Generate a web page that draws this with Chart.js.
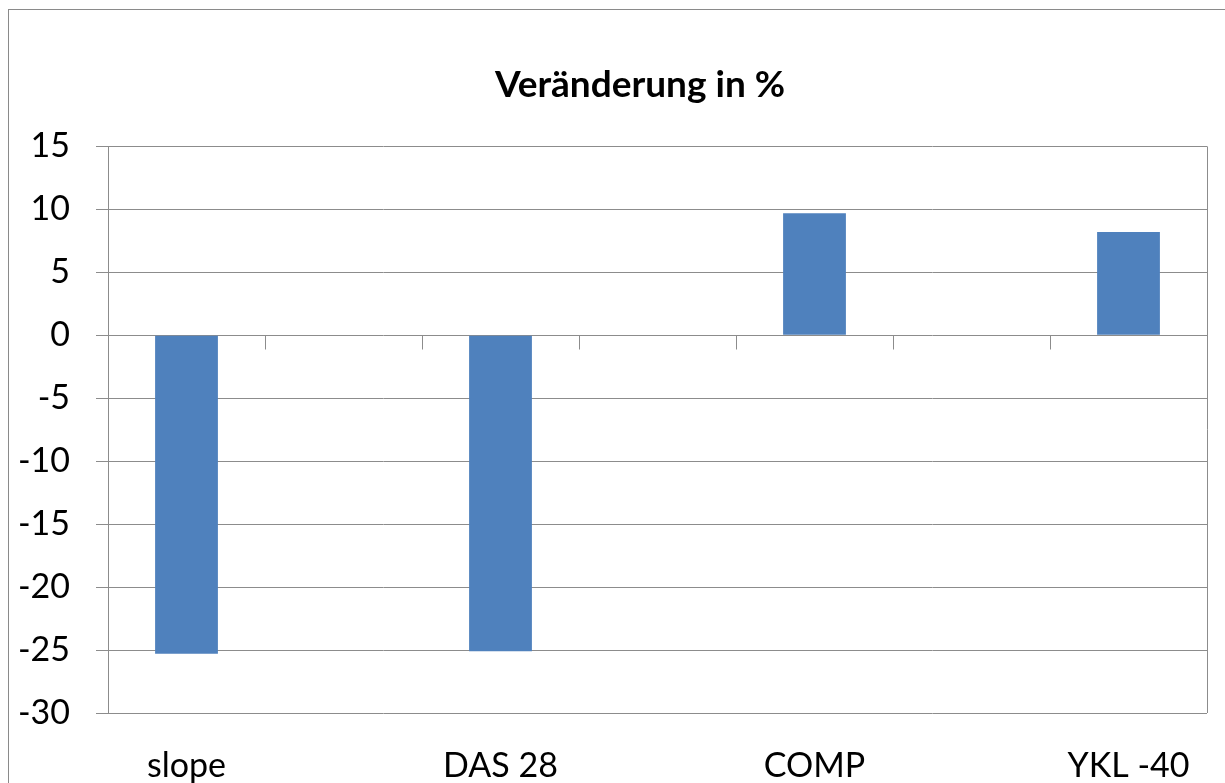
<!DOCTYPE html>
<html>
<head>
<meta charset="utf-8">
<script src="https://cdn.jsdelivr.net/npm/chart.js@4/dist/chart.umd.min.js"></script>
<style>
  html, body { margin: 0; padding: 0; background: #fff; overflow: hidden; }
  #wrap { width: 1225px; height: 783px; overflow: hidden; }
</style>
</head>
<body>
<div id="wrap"><canvas id="chart" width="1280" height="783"></canvas></div>
<script>
// categories (Excel skips every 2nd label, so the empty ones are hidden slots)
const categories = ["slope", "", "DAS 28", "", "COMP", "", "YKL -40"];
const changes = [-25.3, null, -25.1, null, 9.7, null, 8.2];
const yTicks = [15, 10, 5, 0, -5, -10, -15, -20, -25, -30];

const FONT = "Lato, 'Open Sans', sans-serif";
const LINE = "#8c8c8c";

// tick marks on the zero line, right border and the outer frame
const excelBits = {
    id: "excelBits",
    afterDraw(chart) {
        const ctx = chart.ctx;
        const x = chart.scales.x;
        const y = chart.scales.y;
        const area = chart.chartArea;
        const y0 = Math.round(y.getPixelForValue(0)) + 0.5;
        const n = categories.length;
        ctx.save();
        ctx.strokeStyle = LINE;
        ctx.lineWidth = 1;
        ctx.beginPath();
        for (let i = 1; i < n; i++) {
            const px = Math.round(x.left + i * x.width / n) + 0.5;
            ctx.moveTo(px, y0);
            ctx.lineTo(px, y0 + 14);
        }
        // right edge of plot area
        const r = Math.round(area.right) + 0.5;
        ctx.moveTo(r, area.top);
        ctx.lineTo(r, area.bottom);
        ctx.stroke();
        // outer chart frame
        ctx.strokeStyle = "#8a8a8a";
        ctx.strokeRect(8.5, 9.5, 1400, 900);
        ctx.restore();
    }
};

new Chart(document.getElementById("chart"), {
    type: "bar",
    data: {
        labels: categories,
        datasets: [{
            label: "Veränderung in %",
            data: changes,
            backgroundColor: "#4f81bd",
            borderWidth: 0,
            categoryPercentage: 1.0,
            barPercentage: 0.4
        }]
    },
    options: {
        responsive: false,
        animation: false,
        layout: { padding: 0 },
        plugins: {
            legend: { display: false },
            tooltip: { enabled: false },
            title: {
                display: true,
                text: "Veränderung in %",
                color: "#000",
                font: { family: FONT, size: 37, weight: "bold" },
                padding: { top: 63, bottom: 39 }
            }
        },
        scales: {
            x: {
                grid: { display: false, drawTicks: false },
                border: { display: false },
                ticks: {
                    color: "#000",
                    font: { family: FONT, size: 34 },
                    padding: 33,
                    autoSkip: false,
                    maxRotation: 0
                },
                afterFit(scale) { scale.height = 70; }
            },
            y: {
                min: -30,
                max: 15,
                afterBuildTicks(scale) {
                    scale.ticks = yTicks.map(v => ({ value: v }));
                },
                grid: { color: LINE, tickLength: 12, lineWidth: 1 },
                border: { display: true, color: LINE },
                ticks: {
                    color: "#000",
                    font: { family: FONT, size: 34 },
                    padding: 26
                },
                afterFit(scale) { scale.width = 108; }
            },
            // empty right-hand space of the (wider) chart
            yRight: {
                position: "right",
                display: true,
                grid: { display: false, drawTicks: false },
                border: { display: false },
                ticks: { display: false },
                afterFit(scale) { scale.width = 73; }
            }
        }
    },
    plugins: [excelBits]
});
</script>
</body>
</html>
